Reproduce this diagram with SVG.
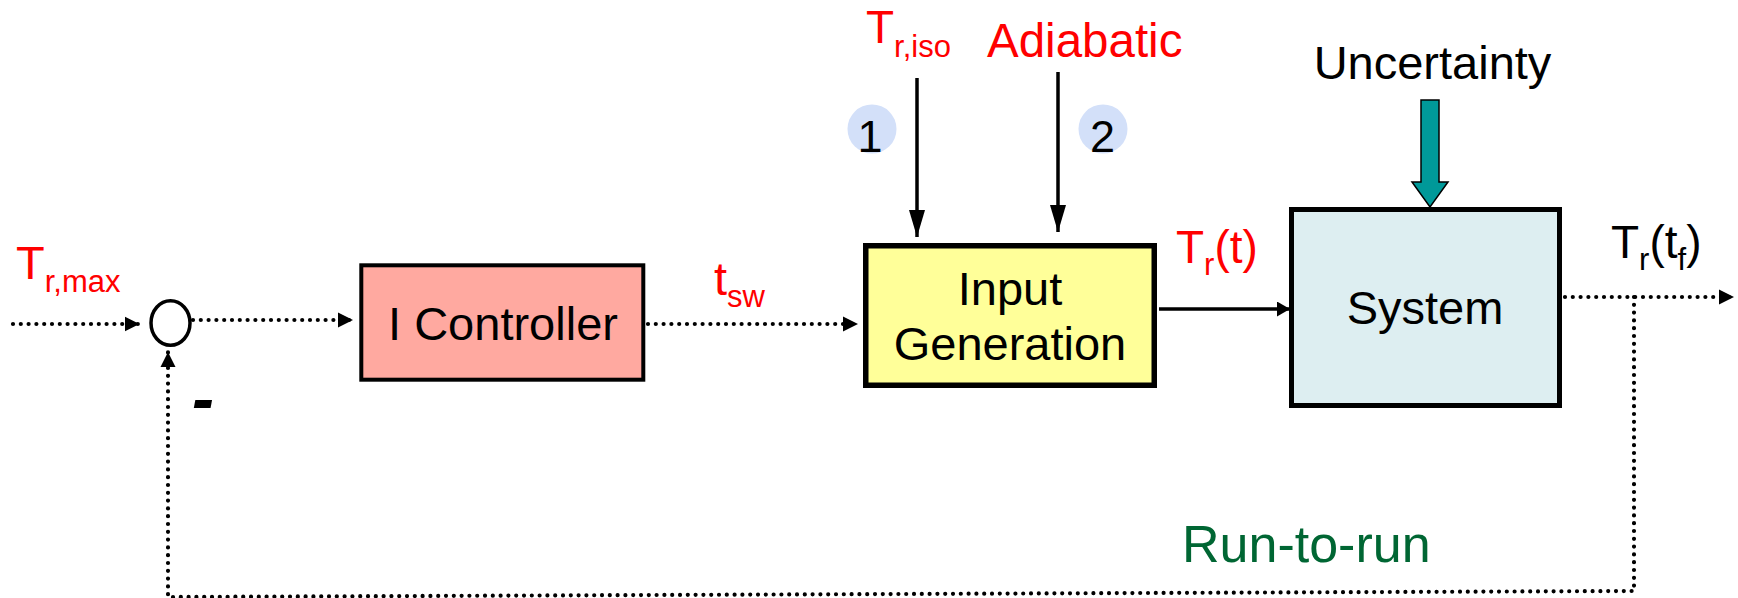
<svg xmlns="http://www.w3.org/2000/svg" width="1738" height="598" viewBox="0 0 1738 598">
  <style>
    text { font-family: "Liberation Sans", Arial, sans-serif; }
    .lbl { font-size: 47px; fill: #000; }
    .red { fill: #FF0000; }
    .blk { fill: #000; }
    .sub { font-size: 31px; }
    .dot { fill: none; stroke: #000; stroke-width: 4.2; stroke-dasharray: 0 7.8; stroke-linecap: round; }
    .solid { fill: none; stroke: #000; stroke-width: 3.5; }
    .box { stroke: #000; }
  </style>
  <defs>
    <marker id="arrDot" markerUnits="userSpaceOnUse" markerWidth="17" markerHeight="17" refX="15" refY="8" orient="auto">
      <path d="M0,0.5 L15,8 L0,15.5 z" fill="#000"/>
    </marker>
    <marker id="arrSolid" markerUnits="userSpaceOnUse" markerWidth="14" markerHeight="16" refX="13" refY="7.5" orient="auto">
      <path d="M0,0 L13,7.5 L0,15 z" fill="#000"/>
    </marker>
    <marker id="arrLong" markerUnits="userSpaceOnUse" markerWidth="28" markerHeight="17" refX="27" refY="8" orient="auto">
      <path d="M0,0 L27,8 L0,16 z" fill="#000"/>
    </marker>
  </defs>

  <!-- connectors -->
  <g id="connectors">
    <line class="dot" x1="13" y1="324" x2="139.5" y2="324" marker-end="url(#arrDot)"/>
    <line class="dot" x1="193" y1="320" x2="353" y2="320" marker-end="url(#arrDot)"/>
    <line class="dot" x1="648" y1="324" x2="858" y2="324" marker-end="url(#arrDot)"/>
    <line class="solid" x1="1159" y1="309" x2="1290" y2="309" marker-end="url(#arrSolid)"/>
    <line class="dot" x1="1565" y1="297" x2="1734" y2="297" marker-end="url(#arrDot)"/>
    <polyline class="dot" points="1634,297 1634,591 168,597 168,352" marker-end="url(#arrDot)"/>
    <line class="solid" x1="917" y1="78" x2="917" y2="237" marker-end="url(#arrLong)"/>
    <line class="solid" x1="1058" y1="72" x2="1058" y2="232" marker-end="url(#arrLong)"/>
    <!-- uncertainty block arrow -->
    <polygon points="1421,100 1439,100 1439,182 1448,182 1430,207 1412,182 1421,182" fill="#009999" stroke="#000" stroke-width="1.5"/>
  </g>

  <!-- summing junction -->
  <g id="sum">
    <ellipse cx="170.5" cy="323" rx="19.5" ry="22.3" fill="#fff" stroke="#000" stroke-width="3.5"/>
    <text x="192" y="421" font-size="66" font-weight="bold" font-style="italic" class="blk">-</text>
  </g>

  <g id="controller">
    <rect class="box" x="361.3" y="265.3" width="282" height="114.4" fill="#FFA9A0" stroke-width="4"/>
    <text class="lbl" x="503" y="340" text-anchor="middle">I Controller</text>
  </g>

  <g id="input-generation">
    <rect class="box" x="865.75" y="245.75" width="288.5" height="139.5" fill="#FFFF99" stroke-width="5.5"/>
    <text class="lbl" x="1010" y="305" text-anchor="middle">Input</text>
    <text class="lbl" x="1010" y="360" text-anchor="middle">Generation</text>
  </g>

  <g id="system">
    <rect class="box" x="1291.5" y="209.5" width="268" height="196" fill="#DDEEF1" stroke-width="5"/>
    <text class="lbl" x="1425" y="324" text-anchor="middle">System</text>
  </g>

  <!-- option markers -->
  <g id="option-1">
    <circle cx="872" cy="129" r="24.5" fill="#D3E0F9"/>
    <text x="870" y="152" font-size="45" text-anchor="middle" class="blk">1</text>
  </g>
  <g id="option-2">
    <circle cx="1103" cy="129" r="24.5" fill="#D3E0F9"/>
    <text x="1102.5" y="152" font-size="45" text-anchor="middle" class="blk">2</text>
  </g>

  <!-- signal labels -->
  <g id="labels">
    <text class="red" x="16" y="279" font-size="47">T<tspan class="sub" dy="12.7">r,max</tspan></text>
    <text class="red" x="866" y="43" font-size="46">T<tspan class="sub" dy="14">r,iso</tspan></text>
    <text class="red" x="987" y="57" font-size="47.5">Adiabatic</text>
    <text class="red" x="714" y="295" font-size="47">t<tspan class="sub" dy="12">sw</tspan></text>
    <text class="red" x="1176" y="263" font-size="46">T<tspan class="sub" dy="12">r</tspan><tspan dy="-12">(t)</tspan></text>
    <text class="blk" x="1611" y="258" font-size="46">T<tspan class="sub" dy="12">r</tspan><tspan dy="-12">(t</tspan><tspan class="sub" dy="12">f</tspan><tspan dy="-12">)</tspan></text>
    <text class="blk" x="1432.5" y="79" font-size="47" text-anchor="middle">Uncertainty</text>
    <text x="1182" y="562" font-size="52" fill="#006633">Run-to-run</text>
  </g>
</svg>
